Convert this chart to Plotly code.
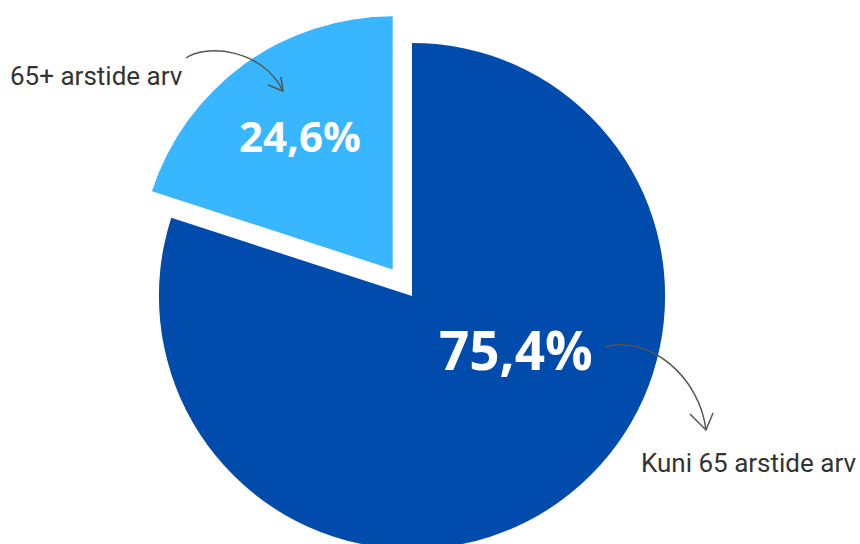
import plotly.graph_objects as go

# data
groups = ["Kuni 65 arstide arv", "65+ arstide arv"]
shares = [75.4, 24.6]          # printed percentages
slice_sizes = [80, 20]         # slice angles as drawn (288° / 72°)
colors = ["#004BAC", "#38B6FF"]

W, H = 860, 600


def px(x, y):
    """pixel position -> paper coords (margins are zero)"""
    return x / W, 1 - y / H


def pct(v):
    return f"{v:.1f}%".replace(".", ",")


fig = go.Figure(go.Pie(
    labels=groups,
    values=slice_sizes,
    sort=False,
    direction="clockwise",
    rotation=0,
    pull=[0, 0.13],
    marker=dict(colors=colors, line=dict(width=0)),
    textinfo="none",
    hoverinfo="label",
    showlegend=False,
    domain=dict(x=[0, 824 / W], y=[1 - 582 / H, 1 - 10 / H]),
))

# percentage labels
for v, (x, y), size in zip(shares, [(516, 349), (300, 135)], [53, 42]):
    ax, ay = px(x, y)
    fig.add_annotation(
        x=ax, y=ay, xref="paper", yref="paper",
        text=f"<b>{pct(v)}</b>", showarrow=False,
        font=dict(family="Open Sans", size=size, color="white"),
        xanchor="center", yanchor="middle",
    )

# callout labels
for g, (x, y), anchor in zip(groups, [(858, 463), (8, 76)], ["right", "left"]):
    ax, ay = px(x, y)
    fig.add_annotation(
        x=ax, y=ay, xref="paper", yref="paper",
        text=g, showarrow=False,
        font=dict(family="Roboto", size=26, color="#333333"),
        xanchor=anchor, yanchor="middle",
    )


def path(points, cmd):
    out = []
    for c, p in zip(cmd, points):
        xs = " ".join(f"{px(*q)[0]:.4f},{px(*q)[1]:.4f}" for q in p)
        out.append(f"{c} {xs}")
    return " ".join(out)


arrow_style = dict(type="path", xref="paper", yref="paper",
                   line=dict(color="#555555", width=1.5))

# hand-drawn style arrows
fig.add_shape(path=path([[(186, 58)], [(205, 44), (262, 48), (283, 91)]], "MC"), **arrow_style)
fig.add_shape(path=path([[(281, 77)], [(283, 91)], [(268, 85)]], "MLL"), **arrow_style)
fig.add_shape(path=path([[(605, 347)], [(650, 334), (700, 378), (706, 430)]], "MC"), **arrow_style)
fig.add_shape(path=path([[(690, 414)], [(706, 430)], [(713, 413)]], "MLL"), **arrow_style)

fig.update_layout(
    width=W, height=H,
    margin=dict(l=0, r=0, t=0, b=0),
    paper_bgcolor="white",
    plot_bgcolor="white",
)

# the pie runs off the bottom edge like in the original, so drop the page
# margin and hide the scrollbars
fig.write_html(
    "out.html",
    config={"displayModeBar": False},
    post_script="document.body.style.margin='0';document.body.style.overflow='hidden';",
)
